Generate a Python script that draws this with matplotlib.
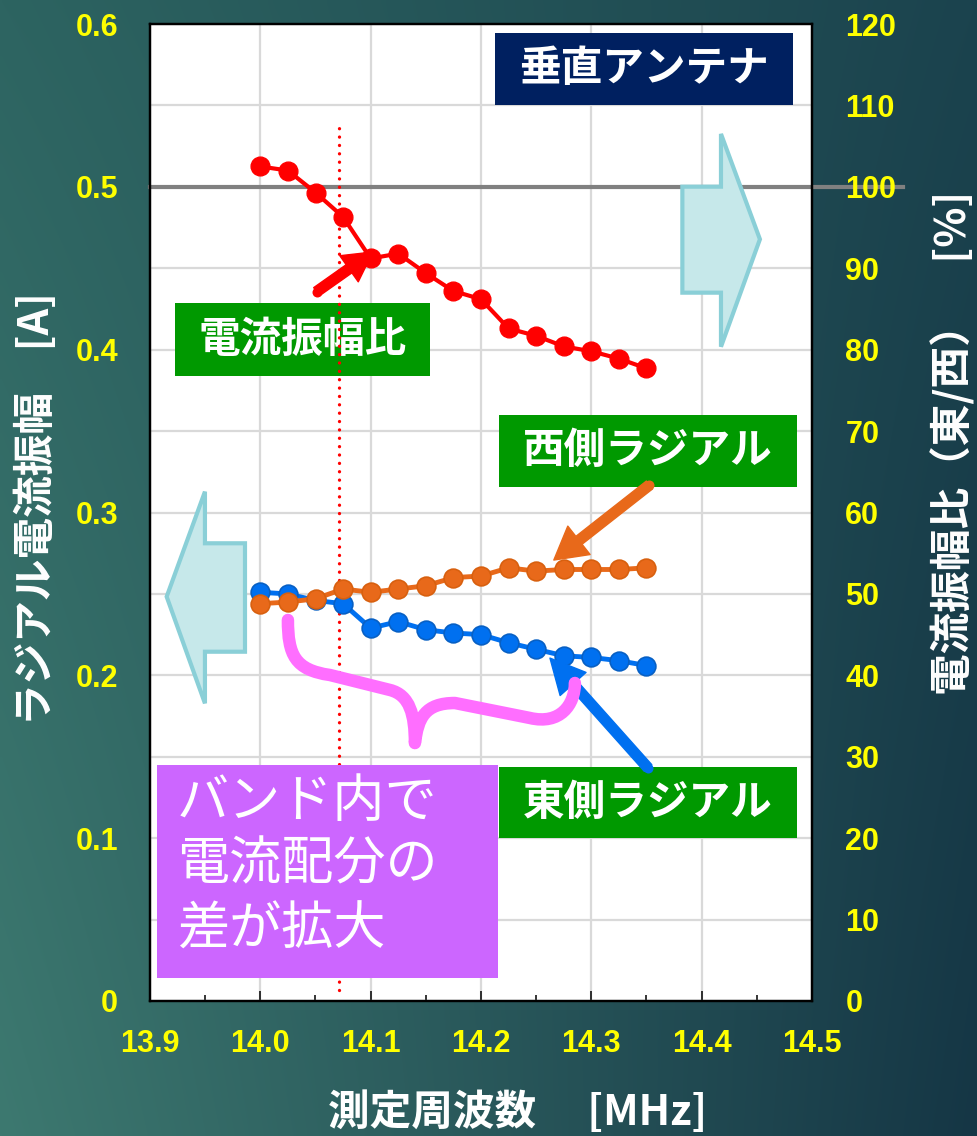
import numpy as np
import matplotlib
matplotlib.use("Agg")
import matplotlib.pyplot as plt
from matplotlib.patches import Rectangle, Polygon, FancyArrowPatch, PathPatch, ArrowStyle
from matplotlib.path import Path
from matplotlib.lines import Line2D
from matplotlib.transforms import blended_transform_factory
from matplotlib.ticker import MultipleLocator

# ---- measured data -------------------------------------------------------
freq_mhz = [14.000, 14.025, 14.050, 14.075, 14.100, 14.125, 14.150, 14.175,
            14.200, 14.225, 14.250, 14.275, 14.300, 14.325, 14.350]
east_radial_a = [0.251, 0.250, 0.246, 0.244, 0.229, 0.233, 0.228, 0.226,
                 0.225, 0.220, 0.216, 0.212, 0.211, 0.209, 0.206]
west_radial_a = [0.244, 0.245, 0.247, 0.253, 0.251, 0.253, 0.255, 0.260,
                 0.261, 0.266, 0.264, 0.265, 0.265, 0.265, 0.266]
ratio_pct = [102.5, 102.0, 99.3, 96.3, 91.2, 91.8, 89.4, 87.2,
             86.2, 82.6, 81.7, 80.4, 79.8, 78.9, 77.7]

x_ticks = [13.9, 14.0, 14.1, 14.2, 14.3, 14.4, 14.5]
x_tick_labels = ["13.9", "14.0", "14.1", "14.2", "14.3", "14.4", "14.5"]
left_ticks = [0.0, 0.1, 0.2, 0.3, 0.4, 0.5, 0.6]
left_tick_labels = ["0", "0.1", "0.2", "0.3", "0.4", "0.5", "0.6"]
right_ticks = [0, 10, 20, 30, 40, 50, 60, 70, 80, 90, 100, 110, 120]
right_tick_labels = [str(t) for t in right_ticks]

band_edge_mhz = 14.071      # dotted marker line
reference_pct = 100         # equal-current reference

JP = ['Noto Sans CJK JP', 'DejaVu Sans']
NUM = ['Liberation Sans', 'DejaVu Sans']
YELLOW = '#FFFF00'
GREEN = '#009900'

fig = plt.figure(figsize=(9.78, 11.36), dpi=100)

# ---- slide-style gradient background ------------------------------------
bg = fig.add_axes([0, 0, 1, 1], zorder=-5)
u = np.linspace(0, 1, 256)[None, :, None]
v = np.linspace(0, 1, 256)[:, None, None]
tl = np.array([0x2D, 0x64, 0x61]) / 255
tr = np.array([0x1B, 0x43, 0x4E]) / 255
bl = np.array([0x3D, 0x79, 0x70]) / 255
br = np.array([0x15, 0x36, 0x45]) / 255
img = tl * (1 - u) * (1 - v) + tr * u * (1 - v) + bl * (1 - u) * v + br * u * v
bg.imshow(img, aspect='auto', extent=[0, 1, 0, 1], origin='upper', interpolation='bilinear')
bg.set_axis_off()

# ---- axes ---------------------------------------------------------------
ax = fig.add_axes([150 / 978, 1 - 1001 / 1136, 662 / 978, 977 / 1136])
ax.set_facecolor('white')
ax.set_xlim(13.9, 14.5)
ax.set_ylim(0, 0.6)
ax2 = ax.twinx()
ax2.set_ylim(0, 120)

ax.set_xticks(x_ticks)
ax.set_xticklabels(x_tick_labels)
ax.xaxis.set_minor_locator(MultipleLocator(0.05))
ax.set_yticks(left_ticks)
ax.set_yticklabels(left_tick_labels)
ax.yaxis.set_minor_locator(MultipleLocator(0.05))
ax2.set_yticks(right_ticks)
ax2.set_yticklabels(right_tick_labels)

ax.set_axisbelow(True)
ax.grid(True, which='major', axis='x', color='#D9D9D9', lw=1.6)
ax.grid(True, which='both', axis='y', color='#D9D9D9', lw=1.6)

ax.tick_params(axis='x', which='major', direction='in', length=7, width=1.1,
               color='black', pad=20, labelsize=22, labelcolor=YELLOW)
ax.tick_params(axis='x', which='minor', direction='in', length=4.5, width=1.1, color='black')
ax.tick_params(axis='y', which='both', length=0, pad=23, labelsize=22, labelcolor=YELLOW)
ax2.tick_params(axis='y', which='both', length=0, pad=24, labelsize=22, labelcolor=YELLOW)
for lbl in ax.get_xticklabels() + ax.get_yticklabels() + ax2.get_yticklabels():
    lbl.set_fontfamily(NUM)
    lbl.set_fontweight('bold')

for a in (ax, ax2):
    for sp in a.spines.values():
        sp.set_color('black')
        sp.set_linewidth(1.6)

# ---- axis labels ---------------------------------------------------------
ax.set_xlabel("測定周波数　 [MHz]", fontsize=30, color='white', fontweight='bold', family=JP)
ax.xaxis.label.set_va('center')
ax.xaxis.set_label_coords(0.555, -0.1146)
ax.set_ylabel("ラジアル電流振幅　[A]", fontsize=30, color='white', fontweight='bold', family=JP)
ax.yaxis.label.set_va('center')
ax.yaxis.set_label_coords(-0.1707, 0.5036)
ax2.set_ylabel("電流振幅比（東/西）　[%]", fontsize=30, color='white', fontweight='bold',
               family=JP, rotation=90)
ax2.yaxis.label.set_va('center')
ax2.yaxis.set_label_coords(1.213, 0.5717)

# ---- reference line at 100 % (runs past the right spine) -----------------
ref_tr = blended_transform_factory(ax.transAxes, ax2.transData)
ax.add_line(Line2D([0, 1.137], [reference_pct, reference_pct], transform=ref_tr,
                   color='#808080', lw=3, clip_on=False, zorder=2.5))

# ---- big pale arrows pointing to the relevant axis -----------------------
left_arrow = [(13.9151, 0.2483), (13.9498, 0.3128), (13.9498, 0.2811), (13.9861, 0.2811),
              (13.9861, 0.2145), (13.9498, 0.2145), (13.9498, 0.1828)]
right_arrow = [(14.4528, 0.4678), (14.4175, 0.5325), (14.4175, 0.5001), (14.3825, 0.5001),
               (14.3825, 0.4350), (14.4175, 0.4350), (14.4175, 0.4018)]
for pts in (left_arrow, right_arrow):
    ax.add_patch(Polygon(pts, closed=True, fc='#C6E8EA', ec='#8ACFD7', lw=3,
                         joinstyle='miter', zorder=3))

# ---- label boxes -----------------------------------------------------------
def label_box(x0, x1, y0, y1, color, text, z=3):
    ax.add_patch(Rectangle((x0, y0), x1 - x0, y1 - y0, fc=color, ec='none', zorder=z))
    ax.text((x0 + x1) / 2, (y0 + y1) / 2, text, ha='center', va='center', color='white',
            fontsize=30, fontweight='bold', family=JP, zorder=z + 0.1)

label_box(14.2123, 14.4826, 0.5503, 0.5945, '#002060', "垂直アンテナ")
label_box(13.9227, 14.1538, 0.3838, 0.4285, GREEN, "電流振幅比")
label_box(14.2163, 14.4862, 0.3157, 0.3599, GREEN, "西側ラジアル")
label_box(14.2163, 14.4862, 0.1001, 0.1437, GREEN, "東側ラジアル")

# round-dotted marker line
ax.plot([band_edge_mhz, band_edge_mhz], [0.007, 0.536], linestyle=(0, (0.01, 2.5)),
        color='#FF0000', lw=2.4, dash_capstyle='round', zorder=3.5)

# purple note box
ax.add_patch(Rectangle((13.9059, 0.0141), 14.2154 - 13.9059, 0.1449 - 0.0141,
                       fc='#CC66FF', ec='none', zorder=7))
note_lines = ["バンド内で", "電流配分の", "差が拡大"]
note_y = [0.1222, 0.0835, 0.0436]
for line, yy in zip(note_lines, note_y):
    ax.text(13.9245, yy, line, ha='left', va='center', color='white', fontsize=37.5,
            family=JP, zorder=7.5)

# ---- data series -----------------------------------------------------------
ax.plot(freq_mhz, east_radial_a, '-o', color='#0070F0', lw=3.5, ms=13.5,
        mec='#0860C4', mew=1.2, zorder=4)
ax.plot(freq_mhz, west_radial_a, '-o', color='#E8691A', lw=3.5, ms=13.5,
        mec='#D8600F', mew=1.2, zorder=4.5)
ax2.plot(freq_mhz, ratio_pct, '-o', color='#FF0000', lw=3, ms=13.5, zorder=5)

# ---- pointer arrows --------------------------------------------------------
def pointer(tail, tip, color, hl, hw, z=6):
    style = ArrowStyle.Simple(head_length=hl, head_width=hw, tail_width=0.72)
    ax.add_patch(FancyArrowPatch(tail, tip, arrowstyle=style, mutation_scale=10,
                                 color=color, shrinkA=0, shrinkB=0, zorder=z))
    ax.plot([tail[0]], [tail[1]], 'o', ms=7.2, color=color, mec='none', zorder=z)

pointer((14.051, 0.4356), (14.102, 0.4600), '#FF0000', 2.1, 2.3)
pointer((14.3527, 0.3169), (14.266, 0.2708), '#E8691A', 2.3, 2.6)
pointer((14.3514, 0.1431), (14.2625, 0.2106), '#0070F0', 2.5, 2.5)

# ---- curly brace spanning the spread between the two radials --------------
brace_verts = [
    (14.025, 0.234),
    (14.025, 0.2125), (14.0314, 0.2033), (14.0631, 0.2002),
    (14.1175, 0.1910),
    (14.1356, 0.1879), (14.1401, 0.1756), (14.1401, 0.1584),
    (14.1429, 0.1738), (14.1492, 0.1830), (14.1764, 0.1830),
    (14.2444, 0.1738),
    (14.2716, 0.1695), (14.2851, 0.1818), (14.2851, 0.1953),
]
brace_codes = [Path.MOVETO,
               Path.CURVE4, Path.CURVE4, Path.CURVE4,
               Path.LINETO,
               Path.CURVE4, Path.CURVE4, Path.CURVE4,
               Path.CURVE4, Path.CURVE4, Path.CURVE4,
               Path.LINETO,
               Path.CURVE4, Path.CURVE4, Path.CURVE4]
ax.add_patch(PathPatch(Path(brace_verts, brace_codes), fill=False, ec='#FF6EFF', lw=9,
                       capstyle='round', joinstyle='round', zorder=8))

fig.savefig("out.png", dpi=100)
